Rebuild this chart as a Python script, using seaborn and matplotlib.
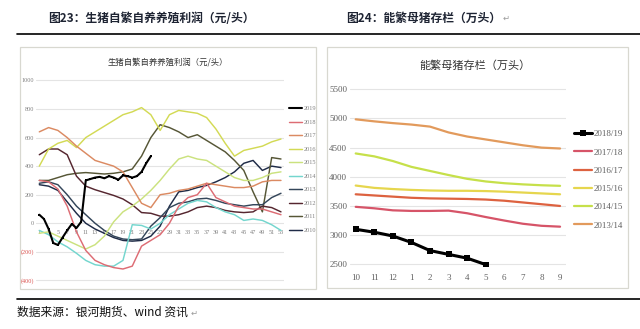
import matplotlib
matplotlib.use("Agg")
import matplotlib.pyplot as plt
import seaborn as sns
from matplotlib.lines import Line2D
from matplotlib.patches import Rectangle

# ---------------- data ----------------
weeks = [1, 3, 5, 7, 9, 11, 13, 15, 17, 19, 21, 23, 25, 27, 29, 31, 33, 35, 37, 39, 41, 43, 45, 47, 49, 51, 53]
weeks_2019 = list(range(1, 26))

profit_2019 = [60, 30, -40, -138, -152, -100, -50, -5, -33, 10, 300, 310, 320, 325, 315, 330, 320, 305, 335, 330,
               320, 330, 360, 420, 470]
profit_2018 = [300, 290, 240, 120, -60, -190, -260, -290, -310, -320, -300, -160, -120, -80, 0, 120, 180, 200, 280,
               180, 150, 120, 110, 100, 100, 80, 60]
profit_2017 = [640, 670, 650, 600, 540, 490, 440, 420, 400, 360, 250, 140, 110, 200, 210, 230, 240, 260, 280, 270,
               260, 250, 250, 260, 290, 300, 300]
profit_2016 = [400, 520, 560, 580, 530, 600, 640, 680, 720, 760, 780, 810, 760, 650, 760, 790, 780, 770, 740, 660,
               560, 470, 510, 525, 540, 570, 590]
profit_2015 = [-70, -60, -90, -120, -150, -180, -150, -90, 10, 80, 120, 170, 230, 300, 380, 450, 470, 450, 440, 400,
               360, 320, 300, 300, 320, 350, 360]
profit_2014 = [-50, -80, -130, -165, -210, -260, -290, -300, -300, -260, -10, -15, -40, 0, 60, 100, 140, 160, 150,
               110, 80, 60, 20, 30, 20, -10, -50]
profit_2013 = [280, 290, 270, 200, 120, 60, 0, -50, -90, -110, -115, -110, -20, 40, 110, 140, 150, 170, 175, 160,
               140, 130, 120, 130, 130, 180, 210]
profit_2012 = [480, 520, 520, 480, 330, 260, 235, 215, 195, 170, 130, 75, 70, 50, 50, 60, 80, 110, 120, 110, 90, 80,
               75, 80, 120, 110, 80]
profit_2011 = [300, 300, 320, 340, 350, 355, 350, 345, 350, 360, 380, 470, 600, 690, 670, 640, 600, 620, 580, 540,
               500, 440, 370, 220, 80, 460, 450]
profit_2010 = [270, 260, 230, 150, 70, 0, -40, -70, -100, -120, -125, -120, -90, -20, 120, 220, 230, 250, 265, 290,
               320, 360, 420, 440, 370, 400, 390]

left_yticks = [-400, -200, 0, 200, 400, 600, 800, 1000]
left_yticklabels = ["(400)", "(200)", "0", "200", "400", "600", "800", "1000"]

months = ["10", "11", "12", "1", "2", "3", "4", "5", "6", "7", "8", "9"]
sows_1819 = [3100, 3050, 2985, 2875, 2735, 2670, 2605, 2495]
sows_1718 = [3485, 3460, 3425, 3415, 3415, 3420, 3375, 3310, 3250, 3195, 3160, 3145]
sows_1617 = [3700, 3680, 3660, 3640, 3630, 3625, 3620, 3610, 3590, 3560, 3530, 3500]
sows_1516 = [3850, 3810, 3790, 3775, 3765, 3760, 3760, 3755, 3745, 3730, 3715, 3700]
sows_1415 = [4400, 4350, 4270, 4170, 4100, 4030, 3965, 3920, 3890, 3870, 3855, 3845]
sows_1314 = [4985, 4950, 4920, 4895, 4860, 4760, 4690, 4640, 4590, 4540, 4500, 4485]
right_yticks = [2500, 3000, 3500, 4000, 4500, 5000, 5500]

# ---------------- style ----------------
sns.set_style("white")
plt.rcParams["font.family"] = ["Noto Sans CJK SC", "DejaVu Sans"]

W, H = 640, 329
fig = plt.figure(figsize=(6.4, 3.29), dpi=100, facecolor="white")


def rect(x0, y0, x1, y1):
    return [x0 / W, 1 - y1 / H, (x1 - x0) / W, (y1 - y0) / H]


def fx(px):
    return px / W


def fy(py):
    return 1 - py / H


# rules
fig.add_artist(Line2D([fx(17), 1], [fy(33.5), fy(33.5)], color="black", lw=1.2, transform=fig.transFigure))
fig.add_artist(Line2D([fx(17), 1], [fy(299), fy(299)], color="black", lw=1.2, transform=fig.transFigure))

# chart boxes
for (x0, y0, x1, y1) in [(20, 47, 316, 289), (327, 47, 628, 288)]:
    fig.add_artist(Rectangle((fx(x0), fy(y1)), (x1 - x0) / W, (y1 - y0) / H, transform=fig.transFigure,
                             facecolor="white", edgecolor="#D8D8D0", lw=0.9, zorder=-5))

# headings
fig.text(fx(48), fy(18), "图23：生猪自繁自养养殖利润（元/头）", fontsize=8.5, fontweight="bold",
         color="#1E2433", va="center", ha="left")
fig.text(fx(346), fy(18), "图24：能繁母猪存栏（万头）", fontsize=8.5, fontweight="bold",
         color="#1E2433", va="center", ha="left")
fig.text(fx(503), fy(18), "↵", fontsize=6, color="#9A9A9A", va="center", ha="left", family="DejaVu Sans")
fig.text(fx(17), fy(312.5), "数据来源：银河期货、wind 资讯", fontsize=8.5, color="#111111", va="center", ha="left")
fig.text(fx(191), fy(313), "↵", fontsize=6, color="#9A9A9A", va="center", ha="left", family="DejaVu Sans")

# ---------------- left chart ----------------
axL = fig.add_axes(rect(36, 78, 284, 282))
axL.set_facecolor("none")
left_series = [
    ("2010", profit_2010, "#1F2B47"),
    ("2011", profit_2011, "#565636"),
    ("2012", profit_2012, "#55262F"),
    ("2013", profit_2013, "#34465A"),
    ("2014", profit_2014, "#74D6CE"),
    ("2015", profit_2015, "#CBE27E"),
    ("2016", profit_2016, "#D3DA55"),
    ("2017", profit_2017, "#DB8A62"),
    ("2018", profit_2018, "#DD6C74"),
]
for name, vals, col in left_series:
    sns.lineplot(x=weeks, y=vals, ax=axL, color=col, lw=1.05, label=name)
sns.lineplot(x=weeks_2019, y=profit_2019, ax=axL, color="black", lw=1.5, marker="s", markersize=2.0,
             markeredgewidth=0, label="2019")

axL.set_xlim(0.29, 53.65)
axL.set_ylim(-411, 1017)
axL.set_xlabel("")
axL.set_ylabel("")
for s in axL.spines.values():
    s.set_visible(False)
axL.spines["bottom"].set_position(("data", 0))
axL.grid(axis="y", color="#E4E4E4", lw=0.8)
axL.set_axisbelow(True)
axL.set_yticks(left_yticks)
axL.set_yticklabels(left_yticklabels, fontsize=4.5, family="Liberation Serif")
for lbl, v in zip(axL.get_yticklabels(), left_yticks):
    lbl.set_color("#D9534F" if v < 0 else "#808080")
axL.set_xticks(weeks)
axL.set_xticklabels([str(w) for w in weeks], fontsize=4.5, family="Liberation Serif", color="#808080")
axL.tick_params(axis="y", length=0, pad=1.5)
axL.tick_params(axis="x", length=0, pad=5.0)

hL, lL = axL.get_legend_handles_labels()
order = ["2019", "2018", "2017", "2016", "2015", "2014", "2013", "2012", "2011", "2010"]
hmap = dict(zip(lL, hL))
axL.legend([hmap[k] for k in order], order, loc="upper left", bbox_to_anchor=(fx(289), fy(106)),
           bbox_transform=fig.transFigure, frameon=False, fontsize=4.5, handlelength=2.1,
           handletextpad=0.25, labelspacing=1.3, borderpad=0, borderaxespad=0, labelcolor="#808080",
           prop={"family": "Liberation Serif", "size": 4.5})
fig.text(fx(168), fy(61.7), "生猪自繁自养养殖利润（元/头）", fontsize=6, color="#333333", va="center", ha="center")

# ---------------- right chart ----------------
axR = fig.add_axes(rect(350, 87, 566, 266))
axR.set_facecolor("none")
idx = list(range(len(months)))
right_series = [
    ("2013/14", sows_1314, "#E29A5C"),
    ("2014/15", sows_1415, "#C6E04A"),
    ("2015/16", sows_1516, "#E6D64E"),
    ("2016/17", sows_1617, "#DD6240"),
    ("2017/18", sows_1718, "#D65468"),
]
for name, vals, col in right_series:
    sns.lineplot(x=idx, y=vals, ax=axR, color=col, lw=1.6, label=name)
sns.lineplot(x=idx[:len(sows_1819)], y=sows_1819, ax=axR, color="black", lw=2.2, marker="s", markersize=4.5,
             markeredgewidth=0, label="2018/19")
axR.set_xlim(-0.307, 11.32)
axR.set_ylim(2471, 5539)
axR.set_xlabel("")
axR.set_ylabel("")
for s in axR.spines.values():
    s.set_visible(False)
axR.grid(axis="y", color="#E4E4E4", lw=0.8)
axR.set_axisbelow(True)
axR.set_yticks(right_yticks)
axR.set_yticklabels([str(v) for v in right_yticks], fontsize=6.5, family="Liberation Serif", color="#606060")
axR.set_xticks(idx)
axR.set_xticklabels(months, fontsize=6.5, family="Liberation Serif", color="#606060")
axR.tick_params(axis="y", length=0, pad=2)
axR.tick_params(axis="x", length=0, pad=5.5)

hR, lR = axR.get_legend_handles_labels()
orderR = ["2018/19", "2017/18", "2016/17", "2015/16", "2014/15", "2013/14"]
hmapR = dict(zip(lR, hR))
axR.legend([hmapR[k] for k in orderR], orderR, loc="upper left", bbox_to_anchor=(fx(574), fy(130)),
           bbox_transform=fig.transFigure, frameon=False, handlelength=2.0,
           handletextpad=0.15, labelspacing=1.1, borderpad=0, borderaxespad=0, labelcolor="#606060",
           prop={"family": "Liberation Serif", "size": 6.5})
fig.text(fx(475), fy(65.5), "能繁母猪存栏（万头）", fontsize=8, color="#333333", va="center", ha="center")

fig.savefig("out.png", dpi=100, facecolor="white")
